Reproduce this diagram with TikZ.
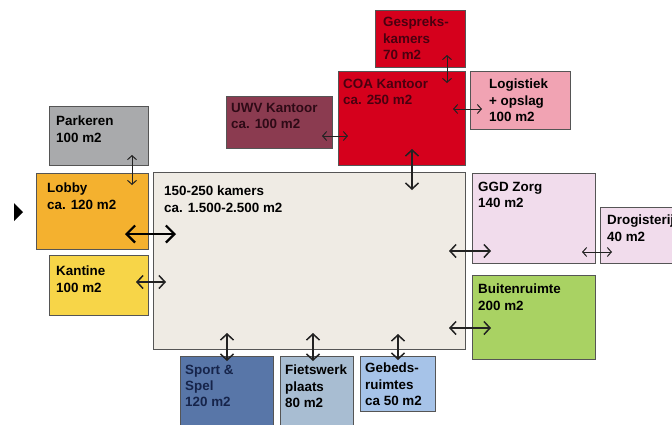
\documentclass[tikz,border=0pt]{standalone}
\usepackage{fontspec}
\setmainfont{Liberation Sans}
\usetikzlibrary{arrows.meta}
\definecolor{cPark}{HTML}{A9AAAC}
\definecolor{cLobby}{HTML}{F4B12F}
\definecolor{cKant}{HTML}{F7D548}
\definecolor{cMain}{HTML}{EFEBE4}
\definecolor{cUWV}{HTML}{8B3B50}
\definecolor{cCOA}{HTML}{D5001C}
\definecolor{cLog}{HTML}{F1A3B3}
\definecolor{cGGD}{HTML}{F1DCEC}
\definecolor{cBuit}{HTML}{A9D263}
\definecolor{cSport}{HTML}{5876A8}
\definecolor{cFiets}{HTML}{A8BDD2}
\definecolor{cGeb}{HTML}{A6C3E8}
\definecolor{cEdge}{HTML}{555555}
\definecolor{tRed}{HTML}{4A0010}
\definecolor{tUWV}{HTML}{2E0A16}
\definecolor{tSport}{HTML}{16244A}
\definecolor{cArrow}{HTML}{222222}
\begin{document}
\begin{tikzpicture}[x=1pt,y=-1pt,
  box/.style={draw=cEdge, line width=0.8pt, inner sep=0pt, outer sep=0pt, anchor=north west},
  lbl/.style={anchor=north west, inner sep=0pt, align=left, font=\bfseries\fontsize{13.4}{16.2}\selectfont},
  thinarr/.style={draw=cArrow, line width=1pt, {Straight Barb[length=4pt,width=9pt]}-{Straight Barb[length=4pt,width=9pt]}},
  midarr/.style={draw=cArrow, line width=1.5pt, {Straight Barb[length=6pt,width=13pt]}-{Straight Barb[length=6pt,width=13pt]}},
  thickarr/.style={draw=black, line width=2.2pt, {Straight Barb[length=8.5pt,width=17pt]}-{Straight Barb[length=8.5pt,width=17pt]}}
]
\useasboundingbox (0,0) rectangle (672,424);
\clip (0,0) rectangle (672,424);
\fill[white] (0,0) rectangle (672,424);

% boxes
\node[box, fill=cPark,  minimum width=99pt,  minimum height=59pt]  (park)  at (49,106) {};
\node[box, fill=cLobby, minimum width=112pt, minimum height=76pt]  (lobby) at (36,173) {};
\node[box, fill=cKant,  minimum width=99pt,  minimum height=60pt]  (kant)  at (49,255) {};
\node[box, fill=cMain,  minimum width=312pt, minimum height=177pt] (main)  at (153,172) {};
\node[box, fill=cUWV,   minimum width=106pt, minimum height=52pt]  (uwv)   at (226,96) {};
\node[box, fill=cCOA,   minimum width=127pt, minimum height=94pt]  (coa)   at (338,71) {};
\node[box, fill=cCOA,   minimum width=90pt,  minimum height=57pt]  (gesp)  at (375,10) {};
\node[box, fill=cLog,   minimum width=100pt, minimum height=58pt]  (log)   at (470,71) {};
\node[box, fill=cGGD,   minimum width=123pt, minimum height=90pt]  (ggd)   at (472,173) {};
\node[box, fill=cGGD,   minimum width=100pt, minimum height=56pt]  (drog)  at (600,207) {};
\node[box, fill=cBuit,  minimum width=123pt, minimum height=84pt]  (buit)  at (472,275) {};
\node[box, fill=cSport, minimum width=93pt,  minimum height=75pt]  (sport) at (180,356) {};
\node[box, fill=cFiets, minimum width=73pt,  minimum height=75pt]  (fiets) at (280,356) {};
\node[box, fill=cGeb,   minimum width=75pt,  minimum height=55pt]  (geb)   at (360,356) {};

% labels
\node[lbl] (parkT)  at (56,116)  {Parkeren\\100 m2};
\node[lbl] (lobbyT) at (47,183)  {Lobby\\ca. 120 m2};
\node[lbl] (kantT)  at (56,266)  {Kantine\\100 m2};
\node[lbl] (mainT)  at (164,186) {150-250 kamers\\ca. 1.500-2.500 m2};
\node[lbl, text=tUWV] (uwvT) at (231,103) {UWV Kantoor\\ca. 100 m2};
\node[lbl, text=tRed] (coaT) at (343,79) {COA Kantoor\\ca. 250 m2};
\node[lbl, text=tRed] (gespT) at (383,17) {Gespreks-\\kamers\\70 m2};
\node[lbl] (logT)   at (489,79)  {Logistiek\\+ opslag\\100 m2};
\node[lbl] (ggdT)   at (478,182) {GGD Zorg\\140 m2};
\node[lbl] (drogT)  at (607,215) {Drogisterij\\40 m2};
\node[lbl] (buitT)  at (478,284) {Buitenruimte\\200 m2};
\node[lbl, text=tSport] (sportT) at (185,365) {Sport \&\\Spel\\120 m2};
\node[lbl] (fietsT) at (285,365) {Fietswerk\\plaats\\80 m2};
\node[lbl] (gebT)   at (365,363) {Gebeds-\\ruimtes\\ca 50 m2};

% arrow end points
\coordinate (a1) at (132,155); \coordinate (b1) at (132,185);
\coordinate (a2) at (125,234); \coordinate (b2) at (176,234);
\coordinate (a3) at (136,282); \coordinate (b3) at (166,282);
\coordinate (a4) at (322,136); \coordinate (b4) at (348,136);
\coordinate (a5) at (447,55);  \coordinate (b5) at (447,83);
\coordinate (a6) at (453,109); \coordinate (b6) at (482,109);
\coordinate (a7) at (412,149); \coordinate (b7) at (412,190);
\coordinate (a8) at (449,251); \coordinate (b8) at (491,251);
\coordinate (a9) at (582,252); \coordinate (b9) at (612,252);
\coordinate (a10) at (449,328); \coordinate (b10) at (491,328);
\coordinate (a11) at (227,333); \coordinate (b11) at (227,361);
\coordinate (a12) at (313,333); \coordinate (b12) at (313,361);
\coordinate (a13) at (398,334); \coordinate (b13) at (398,360);

% connectors
\draw[thinarr] (a1) -- (b1);
\draw[thickarr] (a2) -- (b2);
\draw[midarr] (a3) -- (b3);
\draw[thinarr] (a4) -- (b4);
\draw[thinarr] (a5) -- (b5);
\draw[thinarr] (a6) -- (b6);
\draw[midarr] (a7) -- (b7);
\draw[midarr] (a8) -- (b8);
\draw[thinarr] (a9) -- (b9);
\draw[midarr] (a10) -- (b10);
\draw[midarr] (a11) -- (b11);
\draw[midarr] (a12) -- (b12);
\draw[midarr] (a13) -- (b13);

% play marker
\fill[black] (14,203) -- (23,212) -- (14,221) -- cycle;
\end{tikzpicture}
\end{document}
